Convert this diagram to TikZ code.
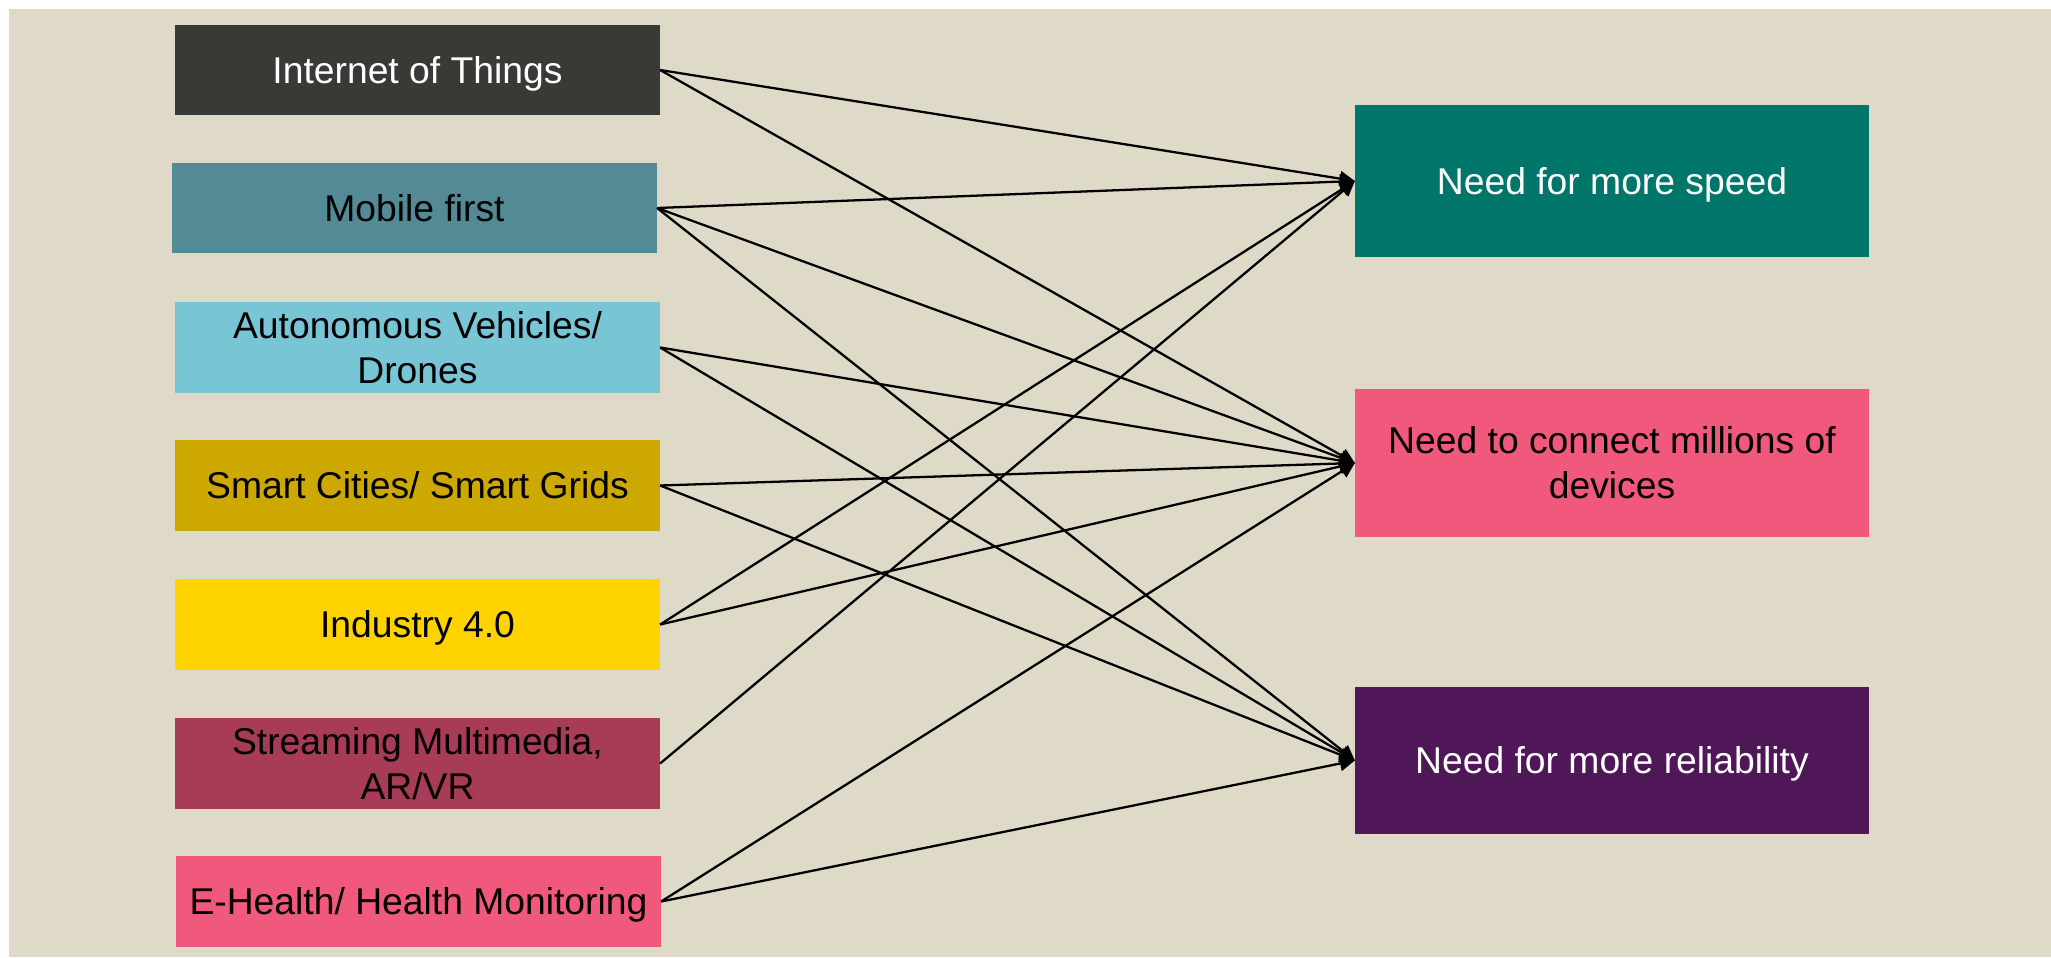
\documentclass[tikz,border=0pt]{standalone}
\usepackage{fontspec}
\setmainfont{Liberation Sans}
\usetikzlibrary{arrows.meta}
\definecolor{bgc}{HTML}{DFD9C7}
\definecolor{ciot}{HTML}{383A36}
\definecolor{cmob}{HTML}{538A96}
\definecolor{cauto}{HTML}{78C5D6}
\definecolor{csmart}{HTML}{CCA800}
\definecolor{cind}{HTML}{FFD300}
\definecolor{cstream}{HTML}{A83B56}
\definecolor{cpink}{HTML}{F0587C}
\definecolor{cspeed}{HTML}{00756A}
\definecolor{crel}{HTML}{4F1758}
\newcommand{\lowtext}[1]{\raisebox{-1.2pt}[\height][\depth]{\begin{tabular}{@{}c@{}}#1\end{tabular}}}
\begin{document}
\begin{tikzpicture}[x=0.01cm,y=-0.01cm,
  box/.style={rectangle,inner sep=0pt,outer sep=0pt,draw=none,align=center,
    font=\fontsize{10.6}{12.8}\selectfont},
  lbox/.style={box,minimum width=4.85cm,minimum height=0.90cm},
  rbox/.style={box,minimum width=5.14cm},
  conn/.style={draw=black,line width=0.65pt,-{Triangle[length=0.15cm,width=0.15cm]}}]
\useasboundingbox (0,0) rectangle (2051,957);
\fill[white] (0,0) rectangle (2051,957);
\fill[bgc] (9,9) rectangle (2051,957);
% left column
\node[lbox,fill=ciot,text=white] (iot) at (417.5,70) {\lowtext{Internet of Things}};
\node[lbox,fill=cmob] (mob) at (414.5,208) {\lowtext{Mobile first}};
\node[lbox,fill=cauto,minimum height=0.91cm] (auto) at (417.5,347.5) {\lowtext{Autonomous Vehicles/\\Drones}};
\node[lbox,fill=csmart,minimum height=0.91cm] (smart) at (417.5,485.5) {\lowtext{Smart Cities/ Smart Grids}};
\node[lbox,fill=cind,minimum height=0.91cm] (ind) at (417.5,624.5) {\lowtext{Industry 4.0}};
\node[lbox,fill=cstream,minimum height=0.91cm] (stream) at (417.5,763.5) {\lowtext{Streaming Multimedia,\\AR/VR}};
\node[lbox,fill=cpink,minimum height=0.91cm] (eh) at (418.5,901.5) {\lowtext{E-Health/ Health Monitoring}};
% right column
\node[rbox,fill=cspeed,text=white,minimum height=1.52cm] (speed) at (1612,181) {\lowtext{Need for more speed}};
\node[rbox,fill=cpink,minimum height=1.48cm] (dev) at (1612,463) {\lowtext{Need to connect millions of\\devices}};
\node[rbox,fill=crel,text=white,minimum height=1.47cm] (rel) at (1612,760.5) {\lowtext{Need for more reliability}};
% connectors
\draw[conn] (iot.east) -- (speed.west);
\draw[conn] (iot.east) -- (dev.west);
\draw[conn] (mob.east) -- (speed.west);
\draw[conn] (mob.east) -- (dev.west);
\draw[conn] (mob.east) -- (rel.west);
\draw[conn] (auto.east) -- (dev.west);
\draw[conn] (auto.east) -- (rel.west);
\draw[conn] (smart.east) -- (dev.west);
\draw[conn] (smart.east) -- (rel.west);
\draw[conn] (ind.east) -- (speed.west);
\draw[conn] (ind.east) -- (dev.west);
\draw[conn] (stream.east) -- (speed.west);
\draw[conn] (eh.east) -- (dev.west);
\draw[conn] (eh.east) -- (rel.west);
\end{tikzpicture}
\end{document}
